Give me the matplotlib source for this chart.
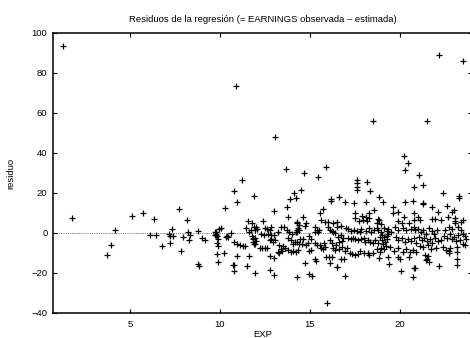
import matplotlib
matplotlib.use("Agg")
import matplotlib.pyplot as plt
import numpy as np

# EXP (years of experience) and regression residuals, grouped by EXP range
exp_a = [1.29, 1.78, 3.72, 3.93, 4.15, 5.09, 5.72, 6.11, 6.35, 6.43, 6.76, 7.17, 7.24, 7.41,
         7.31, 7.24, 7.74, 7.81, 7.96, 8.17, 8.24, 8.31, 8.28, 8.80, 8.77, 8.83, 8.98, 9.17]
res_a = [93.5, 7.5, -11.0, -5.8, 1.7, 8.3, 10.0, -1.2, 7.0, -0.8, -6.7, -0.5, -1.5, -1.5,
         2.0, -5.0, 11.8, -8.8, -2.2, 6.3, 0.7, -1.0, -3.7, 1.0, -15.3, -16.7, -2.7, -3.7]

exp_b = [10.90, 11.20, 10.80, 10.93, 11.90, 10.26, 11.57, 11.78, 11.44, 11.90, 11.59, 11.72,
         10.06, 9.96, 9.70, 9.75, 9.80, 9.72, 9.78, 9.85, 9.87, 9.83, 9.86, 10.40, 10.45,
         10.35, 10.60, 10.80, 10.95, 11.10, 11.25, 11.40, 11.80, 11.85, 11.82, 11.90, 9.83,
         10.20, 10.96, 11.60, 9.90, 10.70, 10.80, 10.78, 11.50, 11.93]
res_b = [73.5, 26.7, 20.8, 15.7, 18.5, 12.5, 6.2, 5.0, 2.5, 2.8, 0.7, 1.5,
         2.5, 1.8, 0.5, -0.3, 0.3, -0.8, -1.2, -1.5, -3.0, -5.0, -6.5, -1.5, -2.2,
         -1.8, 0.2, -4.5, -5.5, -6.2, -6.5, -6.5, -1.5, -3.0, -4.5, -5.5, -10.5,
         -10.2, -11.3, -11.3, -14.7, -16.0, -16.0, -18.8, -16.3, -20.2]

exp_c = [13.06, 13.67, 14.10, 13.90, 14.20, 13.00, 13.70, 13.78, 14.30, 12.40, 11.95, 12.00,
         12.05, 12.50, 12.60, 12.75, 12.85, 13.40, 13.55, 13.24, 13.70, 13.85, 14.00, 14.20,
         14.30, 11.85, 11.95, 12.30, 12.45, 12.65, 12.85, 13.00, 12.00, 11.95, 12.75, 12.85,
         12.95, 13.05, 12.20, 12.35, 12.50, 12.60, 13.30, 13.40, 13.50, 13.60, 13.45, 13.80,
         13.95, 14.05, 14.20, 14.35, 13.80, 13.95, 14.05, 14.15, 12.80, 13.00, 13.20, 13.30,
         12.80, 13.00, 14.30]
res_c = [47.8, 32.0, 19.8, 17.0, 17.7, 10.8, 12.8, 8.2, 5.2, 6.0, 1.5, 3.0,
         2.0, 2.5, 2.0, 1.5, 3.0, 3.0, 3.0, 0.7, 1.5, 0.5, -0.5, 0.5,
         1.5, -2.5, -2.5, -0.5, -1.0, -0.5, -1.0, -1.0, -4.0, -5.5, -3.5, -3.0,
         -4.3, -3.5, -7.5, -7.5, -7.5, -7.3, -6.0, -8.0, -6.5, -7.5, -9.0, -8.5,
         -9.5, -9.0, -9.5, -8.5, -2.5, -3.5, -5.5, -4.5, -11.5, -12.7, -9.3, -10.2,
         -18.5, -21.0, -21.8]

exp_d = [15.90, 14.65, 15.44, 14.50, 16.17, 16.17, 16.63, 15.74, 15.56, 14.63, 15.60, 15.85,
         16.00, 16.30, 14.30, 14.40, 14.35, 14.40, 14.30, 14.75, 14.70, 15.30, 15.40, 15.50,
         15.30, 15.45, 16.00, 16.10, 16.20, 16.30, 16.50, 14.45, 14.60, 14.30, 14.40, 14.55,
         14.75, 14.95, 15.05, 14.90, 15.30, 15.40, 15.55, 15.60, 15.70, 15.80, 15.85, 16.10,
         16.20, 16.30, 16.40, 15.05, 14.95, 15.90, 16.05, 16.20, 15.30, 15.33, 14.70, 16.10,
         16.50, 14.95, 15.10, 15.96]
res_d = [33.2, 30.2, 28.2, 21.5, 17.0, 16.0, 17.8, 12.2, 9.8, 8.2, 6.5, 5.5,
         5.5, 5.2, 5.5, 4.0, 2.5, 1.5, 0.5, 5.0, 3.5, 3.0, 1.5, 1.5,
         0.5, 0.5, 3.0, 1.5, 1.0, 0.5, 3.2, -3.0, -2.8, -4.5, -5.5, -5.5,
         -6.0, -1.5, -3.0, -5.0, -5.0, -6.0, -6.0, -7.3, -8.0, -5.0, -6.8, -3.5,
         -5.0, -7.5, -8.5, -8.5, -9.0, -12.0, -11.8, -12.0, -13.0, -14.0, -15.2, -15.2,
         -16.8, -20.5, -21.5, -34.8]

exp_e = [18.50, 17.63, 17.63, 17.63, 17.63, 18.17, 18.35, 16.96, 17.44, 18.10, 18.83, 18.57,
         17.50, 17.90, 18.25, 18.10, 17.50, 17.70, 17.95, 18.15, 18.30, 18.75, 18.72, 16.50,
         16.70, 17.00, 17.10, 17.25, 17.45, 17.60, 17.75, 17.85, 18.10, 18.30, 18.40, 18.55,
         18.70, 18.80, 16.40, 16.55, 16.70, 16.85, 16.75, 16.60, 17.10, 17.25, 17.40, 17.50,
         17.65, 17.85, 18.00, 18.05, 18.20, 18.35, 18.50, 18.60, 18.75, 18.90, 16.45, 16.60,
         16.75, 16.95, 17.05, 17.20, 17.35, 17.50, 17.65, 17.80, 18.00, 18.20, 18.30, 18.50,
         18.70, 18.85, 18.90, 16.70, 16.90, 16.50, 16.94]
res_e = [55.8, 26.5, 24.8, 23.2, 21.5, 25.3, 21.2, 15.5, 15.2, 15.7, 18.2, 11.5,
         9.8, 8.5, 10.0, 8.0, 7.5, 6.2, 6.5, 6.0, 7.5, 7.0, 5.0, 5.7,
         3.5, 2.5, 2.0, 1.0, 1.5, 1.0, 0.5, 2.0, 1.0, 2.5, 0.5, 1.5,
         2.5, 1.5, 0.0, -2.0, -1.0, -2.5, -4.0, -4.5, -2.5, -3.2, -2.3, -3.0,
         -3.5, -3.0, -2.5, -4.5, -3.5, -4.5, -5.0, -3.5, -5.0, -2.0, -6.0, -8.0,
         -7.0, -9.0, -7.5, -10.0, -10.5, -11.0, -10.5, -9.0, -10.0, -10.0, -11.0, -10.0,
         -8.0, -12.5, -9.5, -13.0, -13.0, -16.8, -21.5]

exp_f = [20.24, 20.47, 20.30, 21.05, 20.80, 19.07, 20.70, 20.28, 19.60, 19.90, 19.60, 20.24,
         20.80, 18.85, 18.95, 19.90, 20.10, 20.50, 20.75, 19.10, 19.25, 19.35, 19.50, 19.70,
         19.90, 20.15, 20.35, 20.60, 20.75, 20.85, 18.95, 19.00, 19.10, 18.98, 19.15, 19.05,
         19.20, 19.30, 19.35, 18.95, 19.10, 19.25, 19.75, 19.90, 20.10, 20.30, 20.45, 20.60,
         20.75, 20.90, 19.45, 19.65, 19.90, 20.15, 20.35, 20.55, 20.70, 20.90, 19.33, 19.37,
         19.90, 20.50, 20.00, 20.06, 20.70, 20.80, 20.85]
res_f = [38.5, 35.2, 31.5, 28.8, 23.2, 15.5, 16.2, 15.5, 13.2, 10.5, 9.8, 8.2,
         9.8, 6.5, 4.5, 6.0, 5.0, 5.0, 6.5, 2.5, 1.0, 2.0, 0.5, 3.0,
         1.5, 2.5, 1.5, 2.0, 3.0, 1.5, 0.5, -1.0, -2.0, -3.5, -4.5, -5.5,
         -6.5, -3.0, -0.5, -7.5, -8.0, -1.5, -2.0, -3.5, -2.5, -4.5, -3.0, -4.0,
         -2.5, -5.0, -7.0, -9.0, -7.5, -9.5, -8.0, -9.5, -8.5, -9.5, -11.8, -15.7,
         -11.8, -11.8, -13.0, -19.2, -22.2, -17.3, -17.7]

exp_g = [22.15, 23.50, 21.50, 21.30, 22.37, 23.30, 23.30, 21.30, 21.30, 21.80, 22.10, 22.60,
         22.90, 23.00, 22.65, 23.05, 23.05, 23.05, 23.40, 23.50, 21.00, 21.10, 21.80, 21.95,
         22.30, 22.50, 22.70, 22.90, 23.20, 23.40, 23.60, 23.50, 21.00, 21.15, 21.30, 21.45,
         21.60, 21.75, 21.90, 22.05, 21.05, 21.20, 21.35, 21.50, 21.65, 21.80, 21.95, 22.10,
         21.10, 21.30, 21.55, 21.70, 22.00, 22.30, 22.45, 22.60, 22.75, 22.90, 23.00, 23.10,
         23.20, 23.35, 23.50, 23.65, 23.60, 22.40, 22.55, 22.70, 22.75, 23.15, 23.15, 23.15,
         23.15, 21.40, 21.55, 21.50, 21.60, 21.45, 22.17, 22.70]
res_g = [89.0, 85.8, 55.8, 23.8, 19.8, 18.7, 17.3, 15.2, 14.3, 12.8, 10.7, 13.5,
         10.7, 11.5, 8.2, 5.0, 6.2, 7.5, 5.5, 6.5, 8.0, 6.5, 6.8, 6.8,
         6.5, 1.5, 3.2, 2.0, 3.0, 1.5, -1.5, -0.5, 2.0, 0.5, 1.5, -0.5,
         2.5, 1.0, -0.5, 1.5, -2.0, -3.5, -2.5, -4.0, -3.0, -5.0, -2.5, -4.0,
         -6.5, -7.0, -6.0, -8.0, -7.5, -3.5, -1.5, -2.5, -0.5, -3.0, -2.0, -4.0,
         -1.0, -3.5, -5.5, -3.0, -6.0, -7.0, -8.5, -9.0, -7.5, -7.0, -9.5, -12.8,
         -16.0, -11.0, -11.5, -13.0, -14.3, -13.7, -16.5, -9.8]

exp_vals = exp_a + exp_b + exp_c + exp_d + exp_e + exp_f + exp_g
residuals = res_a + res_b + res_c + res_d + res_e + res_f + res_g

x_ticks = [5, 10, 15, 20]
y_ticks = [-40, -20, 0, 20, 40, 60, 80, 100]

plt.rcParams['font.family'] = ['Liberation Sans', 'DejaVu Sans']
W, H = 470, 338
fig = plt.figure(figsize=(W / 100, H / 100), dpi=100)
left, right, top, bottom = 53, 472, 33, 313
ax = fig.add_axes([left / W, 1 - bottom / H, (right - left) / W, (bottom - top) / H])

ax.axhline(0, color='#555555', lw=0.6, ls=(0, (1, 1.2)), zorder=1)
ax.plot(exp_vals, residuals, ls='none', marker='+', ms=4.2, mew=0.9, color='black', zorder=2)

ax.set_xlim(0.72, 24.0)
ax.set_ylim(-40, 100)
ax.set_xticks(x_ticks)
ax.set_yticks(y_ticks)
ax.set_yticklabels(['\u221240', '\u221220', '0', '20', '40', '60', '80', '100'])
ax.tick_params(direction='in', length=3, width=0.8, top=True, right=True,
               labelsize=6.8, colors='black')
ax.tick_params(axis='x', pad=5)
ax.tick_params(axis='y', pad=4)
for s in ax.spines.values():
    s.set_linewidth(1.1)

ax.set_title('Residuos de la regresión (= EARNINGS observada \u2013 estimada)',
             fontsize=6.8, pad=8)
ax.set_ylabel('residuo', fontsize=6.8)
ax.yaxis.set_label_coords((15 - left) / (right - left), 0.5)
ax.set_xlabel('EXP', fontsize=6.8)
ax.xaxis.set_label_coords(0.5, -0.062)

fig.savefig('out.png', dpi=100)
